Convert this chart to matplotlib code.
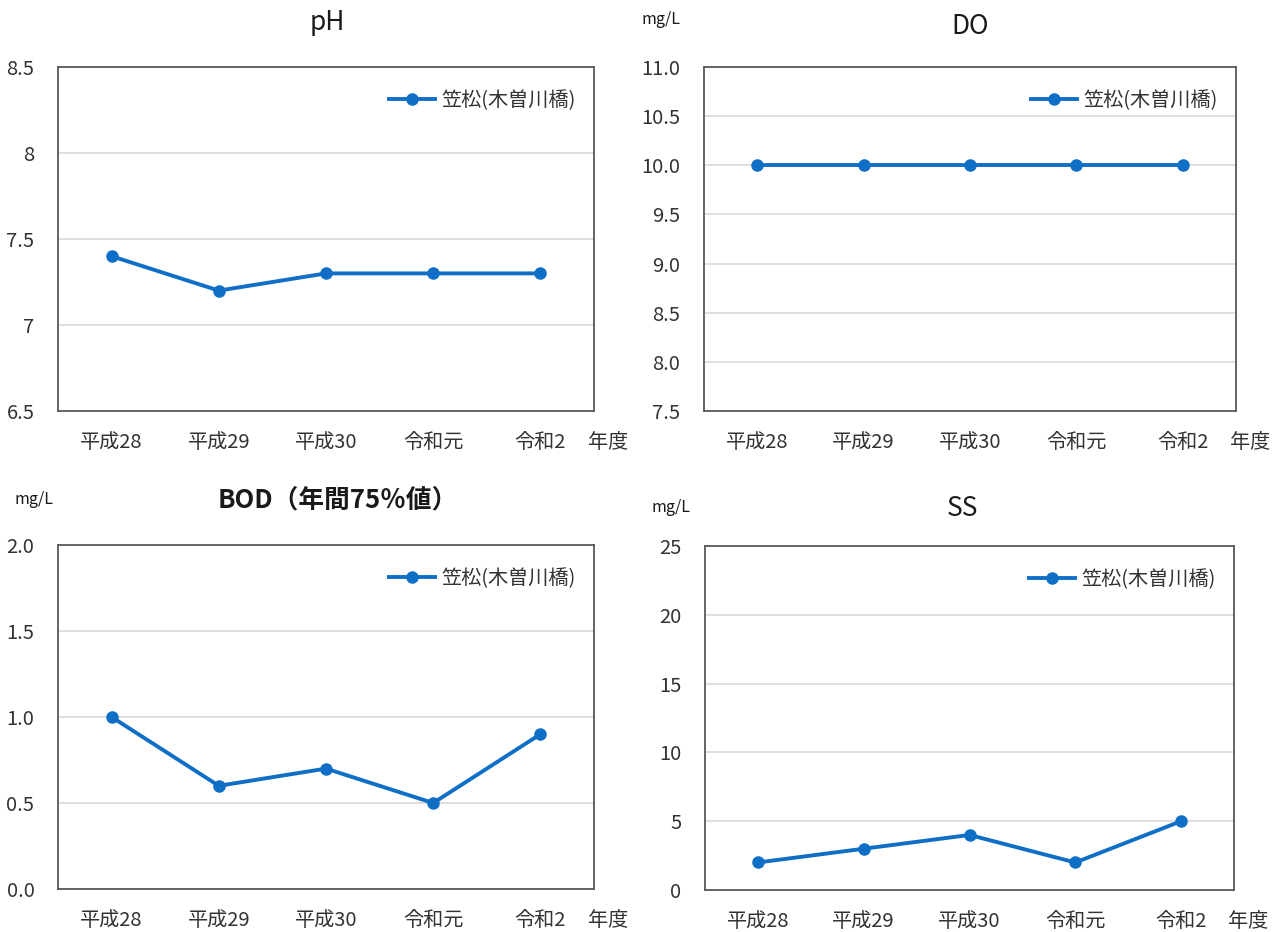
import matplotlib.pyplot as plt
from matplotlib.ticker import FormatStrFormatter

plt.rcParams['font.family'] = ['Noto Sans CJK JP', 'DejaVu Sans']

years = ['平成28', '平成29', '平成30', '令和元', '令和2']
site = '笠松(木曽川橋)'

ph_vals = [7.4, 7.2, 7.3, 7.3, 7.3]
do_vals = [10.0, 10.0, 10.0, 10.0, 10.0]
bod_vals = [1.0, 0.6, 0.7, 0.5, 0.9]
ss_vals = [2, 3, 4, 2, 5]

BLUE = '#0F6FC6'

fig = plt.figure(figsize=(12.88, 9.32), dpi=100)
W, H = 1288, 932


def make_ax(left, top, right, bottom):
    return fig.add_axes([left / W, 1 - bottom / H, (right - left) / W, (bottom - top) / H])


def draw_panel(ax, vals, title, ylim, step, fmt, title_xy, unit=None, unit_xy=None,
               title_bold=False, title_size=19):
    x = list(range(len(years)))
    ax.plot(x, vals, color=BLUE, lw=2.8, marker='o', ms=8, label=site)
    ax.set_xlim(-0.5, len(years) - 0.5)
    ax.set_ylim(*ylim)
    ticks = []
    v = ylim[0]
    while v <= ylim[1] + 1e-9:
        ticks.append(round(v, 3))
        v += step
    ax.set_yticks(ticks)
    if fmt:
        ax.yaxis.set_major_formatter(FormatStrFormatter(fmt))
    ax.set_xticks(x)
    ax.set_xticklabels(years)
    ax.tick_params(length=0, labelsize=14.5, colors='#333333', pad=15)
    ax.tick_params(axis='y', pad=17)
    ax.grid(axis='y', color='#d9d9d9', lw=1.2)
    ax.set_axisbelow(True)
    for s in ax.spines.values():
        s.set_color('#595959')
        s.set_linewidth(1.3)
    ax.annotate('年度', xy=(1, 0), xycoords='axes fraction', xytext=(-4, -15),
                textcoords='offset points', fontsize=14.5, color='#333333',
                ha='left', va='top')
    ax.legend(loc='upper right', bbox_to_anchor=(1.0, 0.985), frameon=False,
              prop={'size': 14.5}, handlelength=2.3, handletextpad=0.3,
              labelcolor='#333333')
    fig.text(title_xy[0] / W, 1 - title_xy[1] / H, title, ha='center', va='center',
             fontsize=title_size, fontweight='bold' if title_bold else 'normal',
             color='#1a1a1a')
    if unit:
        fig.text(unit_xy[0] / W, 1 - unit_xy[1] / H, unit, ha='center', va='center',
                 fontsize=11.5, color='#1a1a1a')


ax1 = make_ax(58, 67, 594, 411)
draw_panel(ax1, ph_vals, 'pH', (6.5, 8.5), 0.5, None, title_xy=(327, 22))
ax1.set_yticklabels(['6.5', '7', '7.5', '8', '8.5'])

ax2 = make_ax(704, 67, 1236, 411)
draw_panel(ax2, do_vals, 'DO', (7.5, 11.0), 0.5, '%.1f', title_xy=(970, 27),
           unit='mg/L', unit_xy=(661, 20))

ax3 = make_ax(58, 545, 594, 889)
draw_panel(ax3, bod_vals, 'BOD（年間75％値）', (0.0, 2.0), 0.5, '%.1f',
           title_xy=(338, 500), unit='mg/L', unit_xy=(34, 500),
           title_bold=True, title_size=18.5)

ax4 = make_ax(705, 546, 1234, 890)
draw_panel(ax4, ss_vals, 'SS', (0, 25), 5, '%d', title_xy=(963, 508),
           unit='mg/L', unit_xy=(671, 508))

fig.savefig('out.png', dpi=100)
